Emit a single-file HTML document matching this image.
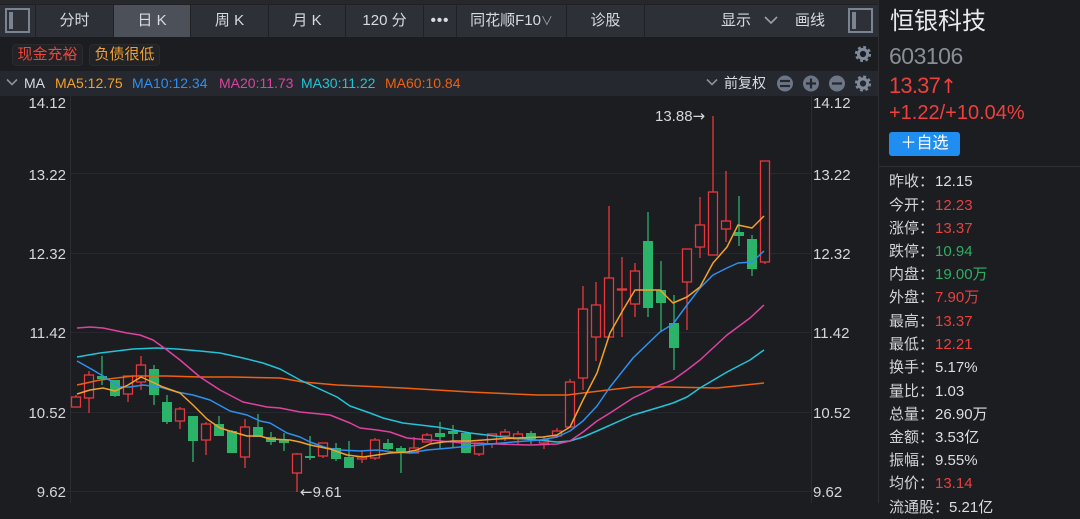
<!DOCTYPE html>
<html><head><meta charset="utf-8">
<style>
*{margin:0;padding:0;box-sizing:border-box}
body{width:1080px;height:503px;overflow:hidden;background:#1c1d21;font-family:"Liberation Sans","Noto Sans CJK SC",sans-serif;position:relative;color:#d8dadf}
.a{position:absolute;white-space:nowrap}
.tb{position:absolute;top:5px;height:32px;background:#2d3037;color:#d8dadf;font-size:15px;line-height:32px;text-align:center;white-space:nowrap}
.ico{position:absolute;width:25px;height:25px;border:2px solid #7b8492;background:#2d3037}
.ico i{position:absolute;left:2px;top:2px;width:4px;bottom:2px;background:#7b8492}
.tag{position:absolute;top:44px;height:22px;border-radius:4px;background:#222326;border:1px solid #2a2b2f;font-size:15px;line-height:20px;text-align:center}
.lg{position:absolute;top:75px;font-size:14px;line-height:16px;white-space:nowrap}
.row{position:absolute;left:889px;height:23px;line-height:23px;font-size:15px;white-space:nowrap;color:#d2d4d8}
.row b{font-weight:normal;display:inline-block;width:46px}
.r{color:#e8403f}.g{color:#2fae62}.w{color:#dcdde0}
.ar{font-family:"DejaVu Sans",sans-serif}
</style></head><body>

<!-- toolbar -->
<div class="a" style="left:0;top:0;width:879px;height:37px;background:#1f2125"></div>
<div class="a" style="left:0;top:0;width:879px;height:4px;background:#26282c"></div>
<div class="tb" style="left:0;width:35px"></div>
<div class="ico" style="left:5px;top:8px"><i></i></div>
<div class="tb" style="left:36px;width:77px">分时</div>
<div class="tb" style="left:114px;width:76px;background:#4c5159">日 K</div>
<div class="tb" style="left:191px;width:77px">周 K</div>
<div class="tb" style="left:269px;width:76px">月 K</div>
<div class="tb" style="left:346px;width:77px">120 分</div>
<div class="tb" style="left:424px;width:32px;font-weight:bold;letter-spacing:1px">•••</div>
<div class="tb" style="left:457px;width:109px">同花顺F10<span style="color:#9aa0aa;font-size:12px">∨</span></div>
<div class="tb" style="left:567px;width:77px">诊股</div>
<div class="tb" style="left:645px;width:234px"></div>
<div class="a" style="left:721px;top:5px;line-height:32px;font-size:15px">显示</div>
<svg class="a" style="left:764px;top:15px" width="14" height="10"><polyline points="1,2 7,8 13,2" fill="none" stroke="#9aa0aa" stroke-width="1.6"/></svg>
<div class="a" style="left:795px;top:5px;line-height:32px;font-size:15px">画线</div>
<div class="ico" style="left:848px;top:8px"><i></i></div>

<!-- tags row -->
<div class="tag" style="left:12px;width:71px;color:#e8453c">现金充裕</div>
<div class="tag" style="left:89px;width:71px;color:#f0a030">负债很低</div>

<!-- legend row -->
<div class="a" style="left:0;top:71px;width:879px;height:25px;background:#25282e"></div>
<svg class="a" style="left:6px;top:78px" width="12" height="9"><polyline points="1,1.5 6,6.5 11,1.5" fill="none" stroke="#8a909a" stroke-width="1.6"/></svg>
<div class="lg" style="left:24px;color:#d8dadf">MA</div>
<div class="lg" style="left:55px;color:#f4a12a">MA5:12.75</div>
<div class="lg" style="left:132px;color:#2e90ee">MA10:12.34</div>
<div class="lg" style="left:219px;color:#de42a0">MA20:11.73</div>
<div class="lg" style="left:301px;color:#22c3d8">MA30:11.22</div>
<div class="lg" style="left:385px;color:#f0600f">MA60:10.84</div>
<svg class="a" style="left:706px;top:78px" width="12" height="9"><polyline points="1,1.5 6,6.5 11,1.5" fill="none" stroke="#8a909a" stroke-width="1.6"/></svg>
<div class="lg" style="left:724px;color:#d8dadf">前复权</div>

<svg class="a" style="left:0;top:0" width="1080" height="503">
  <!-- gear tags row -->
  <g transform="translate(863,54)">
    <circle r="6.3" fill="none" stroke="#7f899a" stroke-width="3.6" stroke-dasharray="2.6 2.35"/>
    <circle r="4.6" fill="none" stroke="#7f899a" stroke-width="3"/>
  </g>
  <!-- legend icons -->
  <g fill="#6c7686">
    <circle cx="785" cy="83.5" r="8"/><circle cx="811" cy="83.5" r="8"/><circle cx="837" cy="83.5" r="8"/>
  </g>
  <g stroke="#25282e" stroke-width="2.2">
    <line x1="780" y1="81" x2="790" y2="81"/><line x1="780" y1="86" x2="790" y2="86"/>
    <line x1="806" y1="83.5" x2="816" y2="83.5"/><line x1="811" y1="78.5" x2="811" y2="88.5"/>
    <line x1="832" y1="83.5" x2="842" y2="83.5"/>
  </g>
  <g transform="translate(863,83.5)">
    <circle r="6.3" fill="none" stroke="#7f899a" stroke-width="3.6" stroke-dasharray="2.6 2.35"/>
    <circle r="4.6" fill="none" stroke="#7f899a" stroke-width="3"/>
  </g>

  <!-- grid -->
  <g stroke="#26282d" stroke-width="1">
    <line x1="70" y1="173.5" x2="811" y2="173.5"/>
    <line x1="70" y1="253.5" x2="811" y2="253.5"/>
    <line x1="70" y1="332.5" x2="811" y2="332.5"/>
    <line x1="70" y1="412.5" x2="811" y2="412.5"/>
    <line x1="64" y1="491.5" x2="811" y2="491.5"/>
  </g>
  <line x1="70.5" y1="96" x2="70.5" y2="503" stroke="#2a2c31"/>
  <line x1="811.5" y1="96" x2="811.5" y2="503" stroke="#2a2c31"/>
  <line x1="878.5" y1="0" x2="878.5" y2="503" stroke="#2c2e33"/>
  <line x1="879" y1="166.5" x2="1080" y2="166.5" stroke="#2c2e33"/>

  <!-- axis labels -->
  <g font-family="Liberation Sans, sans-serif" font-size="15" fill="#d4d6da">
    <g text-anchor="end">
      <text x="66" y="108">14.12</text><text x="66" y="180">13.22</text><text x="66" y="259">12.32</text>
      <text x="66" y="338">11.42</text><text x="66" y="418">10.52</text><text x="66" y="497">9.62</text>
    </g>
    <text x="813" y="108">14.12</text><text x="813" y="180">13.22</text><text x="813" y="259">12.32</text>
    <text x="813" y="338">11.42</text><text x="813" y="418">10.52</text><text x="813" y="497">9.62</text>
    <text x="655" y="121">13.88<tspan font-family="DejaVu Sans, sans-serif">→</tspan></text>
    <text x="300" y="497"><tspan font-family="DejaVu Sans, sans-serif">←</tspan>9.61</text>
  </g>

  <!-- red wicks -->
  <g stroke="#e8383d" stroke-width="1.3">
    <line x1="76" y1="395" x2="76" y2="407"/><line x1="89" y1="371" x2="89" y2="413"/>
    <line x1="128" y1="376" x2="128" y2="402"/><line x1="141" y1="356" x2="141" y2="390"/>
    <line x1="180" y1="407" x2="180" y2="429"/><line x1="206" y1="422" x2="206" y2="455"/>
    <line x1="245" y1="419" x2="245" y2="468"/><line x1="297" y1="453" x2="297" y2="492"/>
    <line x1="323" y1="443" x2="323" y2="458"/><line x1="362" y1="451" x2="362" y2="463"/>
    <line x1="375" y1="438" x2="375" y2="460"/><line x1="414" y1="437" x2="414" y2="453"/>
    <line x1="427" y1="433" x2="427" y2="442"/><line x1="479" y1="443" x2="479" y2="456"/>
    <line x1="492" y1="434" x2="492" y2="448"/><line x1="505" y1="429" x2="505" y2="441"/>
    <line x1="518" y1="431" x2="518" y2="444"/><line x1="544" y1="437" x2="544" y2="449"/>
    <line x1="557" y1="428" x2="557" y2="438"/><line x1="570" y1="379" x2="570" y2="427"/>
    <line x1="583" y1="286" x2="583" y2="390"/><line x1="596" y1="282" x2="596" y2="361"/>
    <line x1="609" y1="206" x2="609" y2="337"/><line x1="622" y1="257" x2="622" y2="337"/>
    <line x1="635" y1="263" x2="635" y2="317"/><line x1="687" y1="249" x2="687" y2="330"/>
    <line x1="700" y1="197" x2="700" y2="258"/><line x1="713" y1="116" x2="713" y2="255"/>
    <line x1="726" y1="171" x2="726" y2="242"/><line x1="765" y1="161" x2="765" y2="264"/>
  </g>
  <!-- red bodies -->
  <g fill="#1c1d21" stroke="#e8383d" stroke-width="1.3">
    <rect x="71.5" y="397" width="9" height="10"/><rect x="84.5" y="375" width="9" height="23"/>
    <rect x="123.5" y="376" width="9" height="18"/><rect x="136.5" y="365" width="9" height="17"/>
    <rect x="175.5" y="409" width="9" height="12"/><rect x="201.5" y="424" width="9" height="16"/>
    <rect x="240.5" y="427" width="9" height="30"/><rect x="292.5" y="454" width="9" height="19"/>
    <rect x="318.5" y="443" width="9" height="13"/><rect x="357.5" y="457" width="9" height="2"/>
    <rect x="370.5" y="440" width="9" height="18"/><rect x="409.5" y="448" width="9" height="5"/>
    <rect x="422.5" y="435" width="9" height="7"/><rect x="474.5" y="443" width="9" height="11"/>
    <rect x="487.5" y="434" width="9" height="10"/><rect x="500.5" y="432" width="9" height="4"/>
    <rect x="513.5" y="434" width="9" height="5"/><rect x="539.5" y="440" width="9" height="3"/>
    <rect x="552.5" y="431" width="9" height="5"/><rect x="565.5" y="382" width="9" height="45"/>
    <rect x="578.5" y="309" width="9" height="69"/><rect x="591.5" y="305" width="9" height="32"/>
    <rect x="604.5" y="278" width="9" height="59"/><rect x="617.5" y="289" width="9" height="1"/>
    <rect x="630.5" y="271" width="9" height="33"/><rect x="682.5" y="249" width="9" height="33"/>
    <rect x="695.5" y="225" width="9" height="22"/><rect x="708.5" y="192" width="9" height="63"/>
    <rect x="721.5" y="221" width="9" height="8"/><rect x="760.5" y="161" width="9" height="101"/>
  </g>
  <!-- green wicks -->
  <g stroke="#2bb36a" stroke-width="1.3">
    <line x1="102" y1="356" x2="102" y2="385"/><line x1="115" y1="380" x2="115" y2="397"/>
    <line x1="154" y1="365" x2="154" y2="405"/><line x1="167" y1="395" x2="167" y2="424"/>
    <line x1="193" y1="416" x2="193" y2="462"/><line x1="219" y1="416" x2="219" y2="436"/>
    <line x1="232" y1="430" x2="232" y2="453"/><line x1="258" y1="414" x2="258" y2="437"/>
    <line x1="271" y1="432" x2="271" y2="445"/><line x1="284" y1="433" x2="284" y2="451"/>
    <line x1="310" y1="436" x2="310" y2="460"/><line x1="336" y1="443" x2="336" y2="461"/>
    <line x1="349" y1="441" x2="349" y2="468"/><line x1="388" y1="439" x2="388" y2="450"/>
    <line x1="401" y1="446" x2="401" y2="473"/><line x1="440" y1="422" x2="440" y2="449"/>
    <line x1="453" y1="425" x2="453" y2="448"/><line x1="466" y1="433" x2="466" y2="453"/>
    <line x1="531" y1="431" x2="531" y2="444"/><line x1="648" y1="212" x2="648" y2="317"/>
    <line x1="661" y1="261" x2="661" y2="332"/><line x1="674" y1="295" x2="674" y2="370"/>
    <line x1="739" y1="196" x2="739" y2="246"/><line x1="752" y1="235" x2="752" y2="276"/>
  </g>
  <!-- green bodies -->
  <g fill="#2bb36a">
    <rect x="97" y="376" width="10" height="3"/><rect x="110" y="380" width="10" height="16"/>
    <rect x="149" y="369" width="10" height="26"/><rect x="162" y="402" width="10" height="20"/>
    <rect x="188" y="416" width="10" height="25"/><rect x="214" y="424" width="10" height="12"/>
    <rect x="227" y="431" width="10" height="22"/><rect x="253" y="427" width="10" height="10"/>
    <rect x="266" y="437" width="10" height="5"/><rect x="279" y="440" width="10" height="3"/>
    <rect x="305" y="456" width="10" height="2"/><rect x="331" y="448" width="10" height="11"/>
    <rect x="344" y="457" width="10" height="11"/><rect x="383" y="443" width="10" height="6"/>
    <rect x="396" y="448" width="10" height="5"/><rect x="435" y="433" width="10" height="4"/>
    <rect x="448" y="431" width="10" height="3"/><rect x="461" y="433" width="10" height="20"/>
    <rect x="526" y="433" width="10" height="6"/><rect x="643" y="241" width="10" height="67"/>
    <rect x="656" y="290" width="10" height="13"/><rect x="669" y="323" width="10" height="25"/>
    <rect x="734" y="232" width="10" height="4"/><rect x="747" y="239" width="10" height="30"/>
  </g>

  <!-- MA lines -->
  <g fill="none" stroke-width="1.5" stroke-linejoin="round">
    <polyline stroke="#f0600f" points="77,385 100,380 133,376 167,376 200,377 233,377 280,378 303,382 337,385 403,388 470,392 537,395 567,395 583,393 633,387 667,387 717,388 764,383"/>
    <polyline stroke="#22c3d8" points="77,357 100,353 133,349 157,348 177,349 200,351 220,353 243,358 263,363 280,369 300,380 337,397 350,406 370,413 383,418 403,423 437,427 470,433 503,437 537,440 557,442 570,441 583,437 597,431 633,415 660,407 673,403 687,397 700,388 727,372 750,360 764,350"/>
    <polyline stroke="#de42a0" points="77,328 90,327 103,328 127,333 140,335 153,340 167,350 180,360 200,377 220,390 243,402 267,407 280,408 300,412 330,415 350,423 360,428 377,430 390,432 407,438 430,440 463,443 497,444 530,445 557,444 570,441 583,432 597,421 610,413 633,398 660,385 673,380 687,370 700,360 727,335 750,318 764,305"/>
    <polyline stroke="#2e90ee" points="77,361 93,370 103,376 120,387 130,387 143,385 160,387 177,392 193,395 210,400 230,411 247,415 260,421 270,423 287,433 300,437 310,442 327,448 340,450 360,451 377,450 393,452 410,453 427,450 450,448 480,445 513,442 540,440 557,437 570,431 583,421 597,406 610,387 633,358 660,332 673,324 687,305 700,288 713,275 727,268 738,263 752,262 764,251"/>
    <polyline stroke="#f4a12a" points="77,394 90,390 103,388 115,391 128,385 141,377 150,381 163,387 180,393 193,405 207,419 220,428 233,432 247,436 260,436 270,439 290,440 300,442 310,445 330,449 347,455 363,457 377,455 390,453 407,452 417,450 430,444 443,442 453,441 470,441 497,439 517,438 543,437 557,435 570,427 583,400 597,373 610,333 623,310 635,290 660,290 673,303 687,297 700,287 713,263 727,247 738,225 752,228 764,216"/>
  </g>
</svg>

<!-- right panel -->
<div class="a" style="left:890px;top:6px;font-size:24px;line-height:32px;color:#e8e9ec">恒银科技</div>
<div class="a" style="left:889px;top:42px;font-size:23px;line-height:28px;color:#8a8e96;letter-spacing:-0.5px">603106</div>
<div class="a" style="left:889px;top:72px;font-size:22px;line-height:28px;color:#ee3f3c;letter-spacing:-0.8px">13.37<span class="ar" style="font-size:20px">↑</span></div>
<div class="a" style="left:889px;top:100px;font-size:20px;line-height:26px;color:#ee3f3c">+1.22/+10.04%</div>
<div class="a" style="left:889px;top:132px;width:71px;height:24px;background:#1f8ef0;border-radius:3px;color:#fff;font-size:16px;line-height:24px;text-align:center">＋自选</div>

<div class="row" style="top:170px"><b>昨收：</b><span class="w">12.15</span></div>
<div class="row" style="top:194px"><b>今开：</b><span class="r">12.23</span></div>
<div class="row" style="top:217px"><b>涨停：</b><span class="r">13.37</span></div>
<div class="row" style="top:240px"><b>跌停：</b><span class="g">10.94</span></div>
<div class="row" style="top:263px"><b>内盘：</b><span class="g">19.00万</span></div>
<div class="row" style="top:286px"><b>外盘：</b><span class="r">7.90万</span></div>
<div class="row" style="top:310px"><b>最高：</b><span class="r">13.37</span></div>
<div class="row" style="top:333px"><b>最低：</b><span class="r">12.21</span></div>
<div class="row" style="top:356px"><b>换手：</b><span class="w">5.17%</span></div>
<div class="row" style="top:380px"><b>量比：</b><span class="w">1.03</span></div>
<div class="row" style="top:403px"><b>总量：</b><span class="w">26.90万</span></div>
<div class="row" style="top:426px"><b>金额：</b><span class="w">3.53亿</span></div>
<div class="row" style="top:449px"><b>振幅：</b><span class="w">9.55%</span></div>
<div class="row" style="top:472px"><b>均价：</b><span class="r">13.14</span></div>
<div class="row" style="top:496px"><b style="width:60px">流通股：</b><span class="w">5.21亿</span></div>

</body></html>
